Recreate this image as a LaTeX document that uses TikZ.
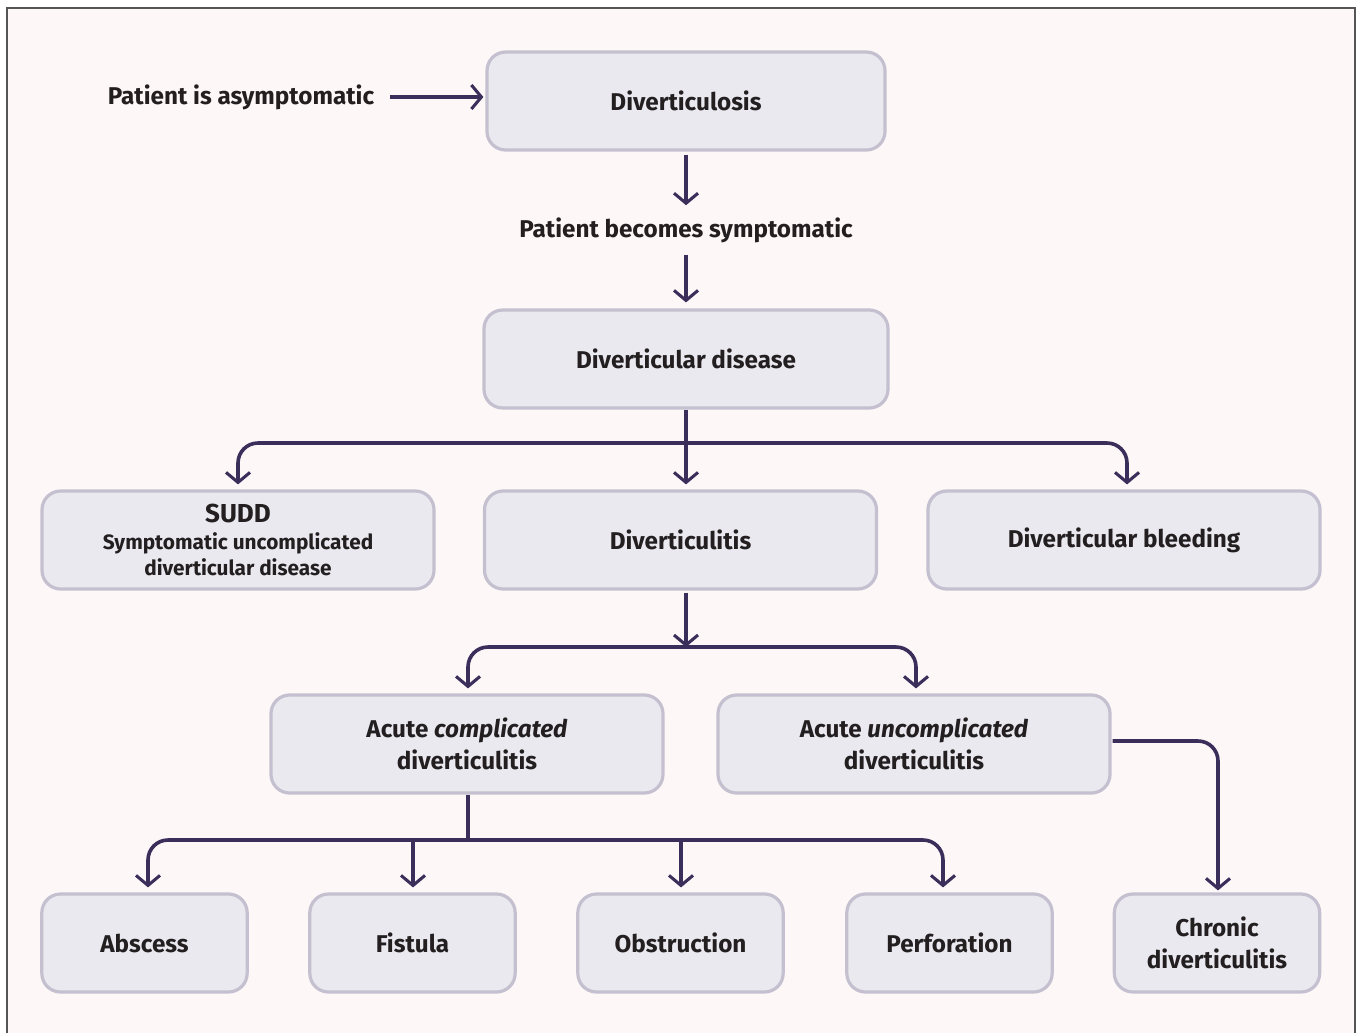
\documentclass[tikz,border=0pt]{standalone}
\usepackage{fontspec}
\setmainfont{Fira Sans}[BoldFont={Fira Sans Bold},BoldItalicFont={Fira Sans Bold Italic}]
\usetikzlibrary{arrows.meta,calc}
\definecolor{bgcol}{HTML}{FDF7F7}
\definecolor{boxfill}{HTML}{EAE9EF}
\definecolor{boxline}{HTML}{C4C0CF}
\definecolor{arrcol}{HTML}{3A2E5A}
\definecolor{txtcol}{HTML}{231F20}
\definecolor{framecol}{HTML}{555555}
\begin{document}
\begin{tikzpicture}[x=0.75pt,y=-0.75pt,
  box/.style={rectangle, rounded corners=14pt, fill=boxfill, draw=boxline, line width=2.4pt,
    minimum height=73.5pt, inner sep=2pt, align=center, font=\fontsize{18.2}{24}\selectfont\bfseries, text=txtcol},
  wbox/.style={box, minimum width=294pt},
  sbox/.style={box, minimum width=154pt},
  lbl/.style={inner sep=0pt, font=\fontsize{18.2}{22}\selectfont\bfseries, text=txtcol},
  arr/.style={draw=arrcol, line width=2.7pt, -{Straight Barb[length=7.5pt,width=18pt,line width=2.3pt]}},
  ln/.style={draw=arrcol, line width=2.7pt},
  rc/.style={rounded corners=15pt}]
\useasboundingbox (0,0) rectangle (1357,1033);
\fill[white] (0,0) rectangle (1357,1033);
\fill[bgcol] (7,8) rectangle (1355,1033);
\draw[framecol, line width=1.2pt] (7,1033) -- (7,8) -- (1355,8) -- (1355,1033);

% nodes
\node[box, minimum width=298.5pt] (dlosis) at (686,101) {Diverticulosis};
\node[lbl] (asym) at (241,97) {Patient is asymptomatic};
\node[lbl] (sympt) at (686,230) {Patient becomes symptomatic};
\node[box, minimum width=303pt] (dd) at (686,359) {Diverticular disease};
\node[wbox] (sudd) at (238,540) {{\fontsize{19.5}{22}\selectfont SUDD}\\[-4pt]{\fontsize{15.6}{20}\selectfont Symptomatic uncomplicated}\\[-4.3pt]{\fontsize{15.6}{20}\selectfont diverticular disease}};
\node[wbox] (ditis) at (680.5,540) {Diverticulitis};
\node[wbox] (bleed) at (1124,540) {Diverticular bleeding};
\node[wbox] (acomp) at (467,744) {Acute \textit{complicated}\\diverticulitis};
\node[wbox] (aunc) at (914,744) {Acute \textit{uncomplicated}\\diverticulitis};
\node[sbox] (absc) at (144.5,943) {Abscess};
\node[sbox] (fist) at (412.5,943) {Fistula};
\node[sbox] (obst) at (680.5,943) {Obstruction};
\node[sbox] (perf) at (949.5,943) {Perforation};
\node[sbox] (chron) at (1217,943) {Chronic\\diverticulitis};

% junction coordinates
\coordinate (j1) at (686,443);
\coordinate (j2) at (686,647);
\coordinate (j3) at (468,840);

% connectors
\draw[arr] (390,97) -- ($(asym.east -| dlosis.west)+(-2,0)$);
\draw[arr] ($(dlosis.south)+(0,3)$) -- ($(sympt.north)+(0,-12)$);
\draw[arr] ($(sympt.south)+(0,12)$) -- ($(dd.north)+(0,-6)$);

\draw[ln] (dd.south) -- (j1);
\draw[arr] (j1) -- ($(j1 |- ditis.north)+(0,-5)$);
\draw[arr, rc] (j1) -| ($(sudd.north)+(0,-5)$);
\draw[arr, rc] (j1) -| ($(bleed.north)+(3,-5)$);

\draw[arr] ($(j2 |- ditis.south)+(0,2)$) -- (j2);
\draw[arr, rc] (j2) -| ($(acomp.north)+(1,-5)$);
\draw[arr, rc] (j2) -| ($(aunc.north)+(2,-5)$);

\draw[ln] (j3 |- acomp.south) -- (j3);
\draw[arr, rc] (j3) -| ($(absc.north)+(3.5,-5)$);
\draw[arr] ($(j3 -| fist.north)+(0.5,0)$) -- ($(fist.north)+(0.5,-5)$);
\draw[arr] ($(j3 -| obst.north)+(0.5,0)$) -- ($(obst.north)+(0.5,-5)$);
\draw[arr, rc] (j3) -| ($(perf.north)+(-6.5,-5)$);

\draw[arr, rc] ($(aunc.east)+(1,-3)$) -| ($(chron.north)+(1,-2)$);
\end{tikzpicture}
\end{document}
